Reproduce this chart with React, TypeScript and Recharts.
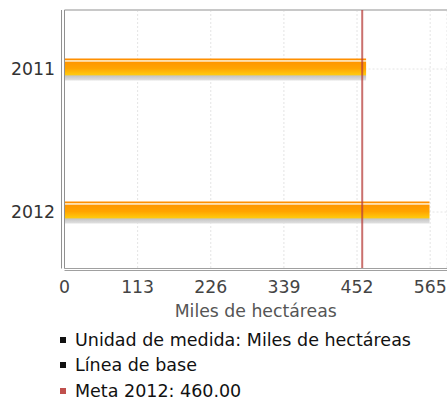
import {
  Bar,
  BarChart,
  CartesianGrid,
  ReferenceLine,
  XAxis,
  YAxis,
} from "recharts"

const years = ["2011", "2012"]
const values = [466, 564]
const xTicks = [0, 113, 226, 339, 452, 565]
const meta = 460
const legendItems = [
  { label: "Unidad de medida: Miles de hectáreas", color: "#111" },
  { label: "Línea de base", color: "#111" },
  { label: "Meta 2012: 460.00", color: "#c0504d" },
]

const FONT = "'DejaVu Sans', sans-serif"
const Y_MIN = -0.4126
const Y_MAX = 1.395
const X_MAX = 591
// second frame lines, just outside the plot (left and bottom)
const X_EDGE = -4.6
const Y_EDGE = 1.409

const chartData = years.map((year, i) => ({ idx: i, year, value: values[i] }))

export default function App() {
  return (
    <div
      style={{
        position: "absolute",
        left: 0,
        top: 0,
        width: 447,
        height: 401,
        background: "#fff",
        fontFamily: FONT,
      }}
    >
      <BarChart
        width={447}
        height={331}
        data={chartData}
        layout="vertical"
        margin={{ top: 10, right: 0, bottom: 0, left: 0 }}
      >
        <defs>
          <linearGradient id="barFill" x1="0" y1="0" x2="0" y2="1">
            <stop offset="0" stopColor="#ff8c00" />
            <stop offset="0.07" stopColor="#ff9200" />
            <stop offset="0.08" stopColor="#ffdca0" />
            <stop offset="0.13" stopColor="#fff0d8" />
            <stop offset="0.15" stopColor="#ff9600" />
            <stop offset="0.45" stopColor="#ffa400" />
            <stop offset="0.76" stopColor="#ffcc10" />
            <stop offset="0.78" stopColor="#c4c4c4" />
            <stop offset="1" stopColor="#e2e2e2" />
          </linearGradient>
        </defs>
        <CartesianGrid stroke="#e4e4e4" strokeDasharray="2 2" />
        <XAxis
          type="number"
          domain={[0, X_MAX]}
          allowDataOverflow
          ticks={xTicks}
          interval={0}
          height={62.5}
          tickSize={0}
          tickMargin={12}
          tickLine={false}
          axisLine={{ stroke: "#a0a0a0" }}
          tick={{ fill: "#444", fontSize: 17.3, fontFamily: FONT }}
          label={{
            value: "Miles de hectáreas",
            position: "insideBottom",
            offset: 14,
            fill: "#555",
            fontSize: 17.3,
            fontFamily: FONT,
          }}
        />
        <YAxis
          type="number"
          dataKey="idx"
          domain={[Y_MIN, Y_MAX]}
          allowDataOverflow
          ticks={[0, 1]}
          interval={0}
          width={64.5}
          tickSize={0}
          tickMargin={9.5}
          tickLine={false}
          tickFormatter={(v: number) => years[v] ?? ""}
          axisLine={{ stroke: "#909090" }}
          tick={{ fill: "#333", fontSize: 17.3, fontFamily: FONT }}
        />
        <ReferenceLine y={Y_MIN} stroke="#c8c8c8" strokeWidth={2} />
        <ReferenceLine x={X_EDGE} stroke="#909090" ifOverflow="visible" />
        <ReferenceLine y={Y_EDGE} stroke="#a0a0a0" ifOverflow="visible" />
        <Bar
          dataKey="value"
          barSize={22}
          fill="url(#barFill)"
          isAnimationActive={false}
        />
        <ReferenceLine
          x={meta}
          stroke="#b8403c"
          strokeOpacity={0.75}
          strokeWidth={2}
        />
      </BarChart>
      <div style={{ position: "absolute", left: 60, top: 327 }}>
        {legendItems.map((item) => (
          <div
            key={item.label}
            style={{
              display: "flex",
              alignItems: "center",
              height: 25.5,
              fontSize: 17.5,
              color: "#111",
              whiteSpace: "nowrap",
            }}
          >
            <span
              style={{
                display: "inline-block",
                width: 6,
                height: 6,
                background: item.color,
                marginRight: 9,
              }}
            />
            {item.label}
          </div>
        ))}
      </div>
    </div>
  )
}
